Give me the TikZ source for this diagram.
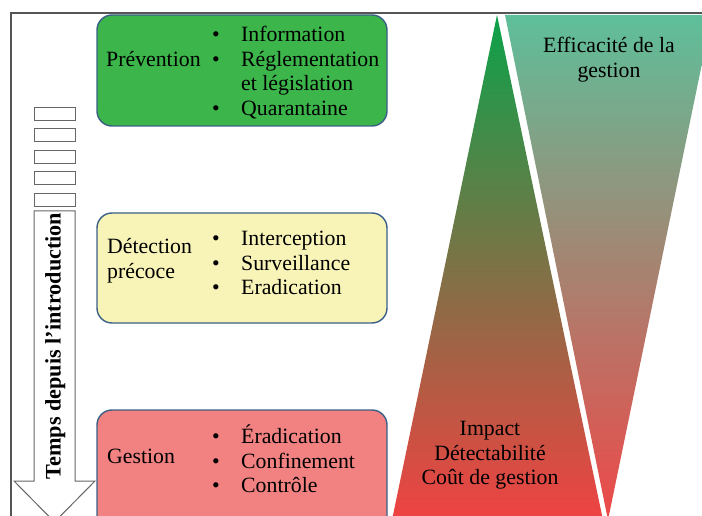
\documentclass[tikz,border=0pt]{standalone}
\usepackage{fontspec}
\setmainfont{Liberation Serif}
\begin{document}
\begin{tikzpicture}[x=1pt,y=-1pt,
  box/.style={draw=boxborder,line width=1.4pt,rounded corners=15pt},
  txt/.style={inner sep=0pt,anchor=base west,font=\fontsize{21.8}{24.5}\selectfont,text=black},
  ctxt/.style={inner sep=0pt,anchor=base,font=\fontsize{21.8}{24.5}\selectfont,text=black},
  bul/.style={inner sep=0pt,anchor=base,font=\fontsize{21.8}{24.5}\selectfont,text=black},
  dashbox/.style={draw=black!60,line width=1pt,fill=white},
  arrowshape/.style={draw=black!60,line width=1pt,fill=white}]
\definecolor{boxborder}{HTML}{3A5F86}
\definecolor{prevgreen}{HTML}{3CB54A}
\definecolor{detyellow}{HTML}{F8F4B8}
\definecolor{gespink}{HTML}{F28282}
\definecolor{trigreen}{HTML}{0BA24A}
\definecolor{trired}{HTML}{F04242}
\definecolor{tealtop}{HTML}{5EBF9A}
\definecolor{redbot}{HTML}{EE4848}
\definecolor{framegray}{HTML}{555555}
\useasboundingbox (0,0) rectangle (702,516);
\clip (0,0) rectangle (702,516);
% frame
\draw[framegray,line width=1.5pt] (11,520) -- (11,13) -- (710,13);
% triangles
\path[top color=trigreen,bottom color=trired] (497,15) -- (603,520) -- (392,520) -- cycle;
\path[top color=tealtop,bottom color=redbot] (505,15) -- (712,15) -- (608,520) -- cycle;
% dashed-shaft arrow
\node[dashbox,minimum width=41pt,minimum height=13pt,inner sep=0pt] (d1) at (54.5,114.5) {};
\node[dashbox,minimum width=41pt,minimum height=13pt,inner sep=0pt] (d2) at (54.5,135) {};
\node[dashbox,minimum width=41pt,minimum height=13pt,inner sep=0pt] (d3) at (54.5,157.5) {};
\node[dashbox,minimum width=41pt,minimum height=13pt,inner sep=0pt] (d4) at (54.5,178.5) {};
\node[dashbox,minimum width=41pt,minimum height=13pt,inner sep=0pt] (d5) at (54.5,200) {};
\draw[arrowshape] (34,211) -- (75,211) -- (75,481) -- (95,481) -- (54.5,522) -- (14,481) -- (34,481) -- cycle;
\node[inner sep=0pt,anchor=base,rotate=90,font=\fontsize{22.2}{24}\selectfont\bfseries] (temps) at (60.5,346) {Temps depuis l’introduction};
% boxes
\draw[box,fill=prevgreen] (97,15) rectangle (387,126);
\draw[box,fill=detyellow] (97,213) rectangle (387,323);
\draw[box,fill=gespink] (97,410) rectangle (387,540);
% Prevention
\node[txt] (prev) at (106,67) {Prévention};
\node[bul] (pb1) at (216,42) {•};
\node[bul] (pb2) at (216,67) {•};
\node[bul] (pb3) at (216,115.5) {•};
\node[txt] (p1) at (241,42) {Information};
\node[txt] (p2) at (241,67) {Réglementation};
\node[txt] (p2b) at (241,91) {et législation};
\node[txt] (p3) at (241,115.5) {Quarantaine};
% Detection
\node[txt] (det1) at (107,253) {Détection};
\node[txt] (det2) at (107,278) {précoce};
\node[bul] (db1) at (216,245) {•};
\node[bul] (db2) at (216,270) {•};
\node[bul] (db3) at (216,294) {•};
\node[txt] (d1t) at (241,245) {Interception};
\node[txt] (d2t) at (241,270) {Surveillance};
\node[txt] (d3t) at (241,294) {Eradication};
% Gestion
\node[txt] (ges) at (107,463) {Gestion};
\node[bul] (gb1) at (216,443) {•};
\node[bul] (gb2) at (216,468) {•};
\node[bul] (gb3) at (216,492) {•};
\node[txt] (g1) at (241,443) {Éradication};
\node[txt] (g2) at (241,468) {Confinement};
\node[txt] (g3) at (241,492) {Contrôle};
% triangle texts
\node[ctxt] (eff1) at (609,53) {Efficacité de la};
\node[ctxt] (eff2) at (609,78) {gestion};
\node[ctxt] (imp1) at (490,435) {Impact};
\node[ctxt] (imp2) at (490,460) {Détectabilité};
\node[ctxt] (imp3) at (490,484) {Coût de gestion};
\end{tikzpicture}
\end{document}
